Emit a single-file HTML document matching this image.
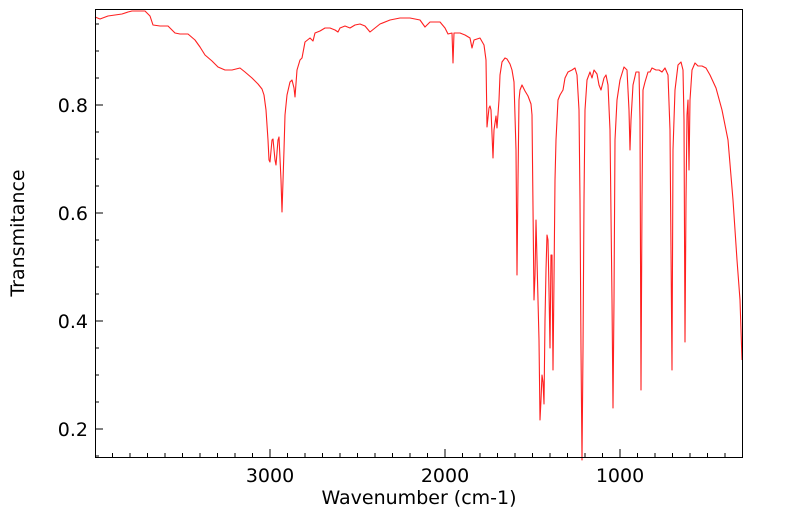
<!DOCTYPE html>
<html><head><meta charset="utf-8"><style>
html,body{margin:0;padding:0;background:#fff;}
svg{display:block;font-family:"DejaVu Sans",sans-serif;}
</style></head><body>
<svg width="799" height="516" viewBox="0 0 799 516" xmlns="http://www.w3.org/2000/svg">
<rect width="799" height="516" fill="#fff"/>
<polyline fill="none" stroke="#ff2020" stroke-width="1.1" stroke-linejoin="round" points="
95,17 100,19 108,16 115,15 122,14 128,12 132,11 140,11 145,11 150,16 153,25 160,26 168,26 175,33 180,34 188,34 195,40 200,47 205,55 212,61 218,67 225,70 232,70 240,68 245,72 252,78 258,84 262,89 264,95 266,110 268,140 269,160 270,162 272,140 273,139 275,160 276,165 278,140 279,137 281,180 282,212 284,150 285,115 287,95 290,82 292,80 294,88 295,97 297,70 300,60 302,58 305,42 310,38 313,41 315,33 320,31 325,28 330,28 335,30 338,32 340,28 345,26 350,28 355,25 360,24 365,26 370,32 375,28 380,24 390,20 400,18 410,18 420,20 425,27 430,22 440,22 445,28 448,34 452,33 453,63 454,33 460,33 465,35 470,38 472,48 474,40 480,38 484,45 486,60 487,127 489,108 490,106 491,110 493,158 494,130 496,116 497,128 499,100 500,75 502,62 505,58 507,59 510,64 512,70 514,82 516,150 517,275 518,180 519,100 520,90 522,85 525,91 528,96 531,104 532,115 534,300 535,275 536,220 537,260 539,340 540,420 541,400 542,375 543,382 544,404 545,320 546,270 547,235 548,240 549,290 550,348 551,255 552,255 553,370 554,280 555,180 556,140 558,100 560,95 563,90 565,78 568,72 572,70 575,68 577,75 579,110 580,200 581,350 582,460 583,350 584,200 585,110 587,80 590,72 592,78 594,70 597,74 599,85 601,90 604,78 606,75 608,85 610,130 612,300 613,408 614,300 615,140 617,100 620,80 624,67 627,70 629,110 630,150 631,120 633,85 636,72 639,72 640,120 641,390 642,200 643,90 645,82 648,72 650,72 652,68 656,70 659,70 662,72 665,68 668,75 670,130 672,370 673,150 675,90 678,65 681,62 683,70 684,120 685,342 686,200 687,115 688,100 689,170 690,100 692,70 695,63 698,66 702,66 706,68 710,75 716,88 722,110 728,140 733,200 737,260 740,300 742,360"/>
<rect x="95.5" y="9.5" width="647" height="448" fill="none" stroke="#000" stroke-width="1"/>
<g stroke="#000" stroke-width="1">
<line x1="95" y1="105" x2="103" y2="105"/><line x1="95" y1="213" x2="103" y2="213"/><line x1="95" y1="321" x2="103" y2="321"/><line x1="95" y1="429" x2="103" y2="429"/>
<line x1="95" y1="24" x2="99" y2="24"/><line x1="95" y1="51" x2="99" y2="51"/><line x1="95" y1="78" x2="99" y2="78"/><line x1="95" y1="132" x2="99" y2="132"/><line x1="95" y1="159" x2="99" y2="159"/><line x1="95" y1="186" x2="99" y2="186"/><line x1="95" y1="240" x2="99" y2="240"/><line x1="95" y1="267" x2="99" y2="267"/><line x1="95" y1="294" x2="99" y2="294"/><line x1="95" y1="348" x2="99" y2="348"/><line x1="95" y1="375" x2="99" y2="375"/><line x1="95" y1="402" x2="99" y2="402"/><line x1="95" y1="456" x2="99" y2="456"/>
<line x1="270" y1="457" x2="270" y2="449"/><line x1="445" y1="457" x2="445" y2="449"/><line x1="620" y1="457" x2="620" y2="449"/>
</g>
<g stroke="#000" stroke-width="1">
<line x1="112.5" y1="457" x2="112.5" y2="453"/><line x1="130" y1="457" x2="130" y2="453"/><line x1="147.5" y1="457" x2="147.5" y2="453"/><line x1="165" y1="457" x2="165" y2="453"/><line x1="182.5" y1="457" x2="182.5" y2="453"/><line x1="200" y1="457" x2="200" y2="453"/><line x1="217.5" y1="457" x2="217.5" y2="453"/><line x1="235" y1="457" x2="235" y2="453"/><line x1="252.5" y1="457" x2="252.5" y2="453"/>
<line x1="287.5" y1="457" x2="287.5" y2="453"/><line x1="305" y1="457" x2="305" y2="453"/><line x1="322.5" y1="457" x2="322.5" y2="453"/><line x1="340" y1="457" x2="340" y2="453"/><line x1="357.5" y1="457" x2="357.5" y2="453"/><line x1="375" y1="457" x2="375" y2="453"/><line x1="392.5" y1="457" x2="392.5" y2="453"/><line x1="410" y1="457" x2="410" y2="453"/><line x1="427.5" y1="457" x2="427.5" y2="453"/>
<line x1="462.5" y1="457" x2="462.5" y2="453"/><line x1="480" y1="457" x2="480" y2="453"/><line x1="497.5" y1="457" x2="497.5" y2="453"/><line x1="515" y1="457" x2="515" y2="453"/><line x1="532.5" y1="457" x2="532.5" y2="453"/><line x1="550" y1="457" x2="550" y2="453"/><line x1="567.5" y1="457" x2="567.5" y2="453"/><line x1="585" y1="457" x2="585" y2="453"/><line x1="602.5" y1="457" x2="602.5" y2="453"/>
<line x1="637.5" y1="457" x2="637.5" y2="453"/><line x1="655" y1="457" x2="655" y2="453"/><line x1="672.5" y1="457" x2="672.5" y2="453"/><line x1="690" y1="457" x2="690" y2="453"/><line x1="707.5" y1="457" x2="707.5" y2="453"/><line x1="725" y1="457" x2="725" y2="453"/>
</g>
<g font-size="19" fill="#000">
<text x="88" y="112" text-anchor="end">0.8</text>
<text x="88" y="220" text-anchor="end">0.6</text>
<text x="88" y="328" text-anchor="end">0.4</text>
<text x="88" y="436" text-anchor="end">0.2</text>
<text x="270" y="482" text-anchor="middle">3000</text>
<text x="445" y="482" text-anchor="middle">2000</text>
<text x="620" y="482" text-anchor="middle">1000</text>
<text x="419" y="504" text-anchor="middle">Wavenumber (cm-1)</text>
<text transform="translate(24,233) rotate(-90)" text-anchor="middle">Transmitance</text>
</g>
</svg>
</body></html>
